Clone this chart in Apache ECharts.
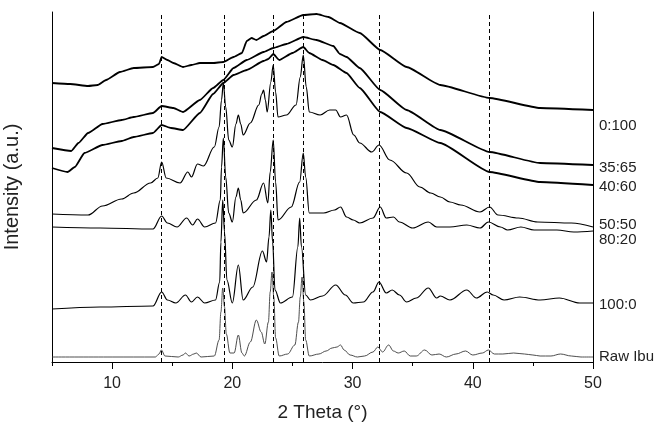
<!DOCTYPE html>
<html>
<head>
<meta charset="utf-8">
<script src="https://cdn.jsdelivr.net/npm/echarts@6/dist/echarts.min.js"></script>
<style>
  html, body { margin: 0; padding: 0; background: #fff; }
  #chart { width: 660px; height: 422px; }
</style>
</head>
<body>
<div id="chart"></div>
<script>
// XRD 图谱 — 各配比的衍射曲线（强度为任意单位，按图面读取）

const majorTicks = [10, 20, 30, 40, 50];
const refPeaks = [14.1, 19.3, 23.4, 25.9, 32.2, 41.4];

const d0_100 = [[5,279],[6.5,278],[8,276],[8.8,277],[9.5,282],[10.65,290],[11.8,294],[13.4,295],[13.9,298],[14.12,305],[14.6,302],[15.1,299],[15.9,295],[16.6,297],[17.3,299],[18.4,299],[19.25,300],[20.1,305],[20.8,309],[21.2,321],[21.6,324],[22.0,322],[22.6,326],[23.4,331],[24.5,340],[25.9,347],[27.0,348],[28.0,345],[28.95,339],[30.6,329],[32.3,312],[34.5,295],[37.3,277],[41.4,264],[45.6,254],[50,252]];

const d35_65 = [[5,214],[6.6,211],[7.2,219],[8.0,229],[9.2,238],[10.8,242],[11.8,245],[13.4,249],[14.12,256],[15.1,254],[15.9,250],[17.3,262],[18.4,274],[19.25,282],[20.1,294],[21.2,302],[22.6,310],[23.4,314],[24.5,318],[25.9,325],[27.0,322],[28.4,316],[28.95,308],[29.5,305],[30.6,294],[32.3,272],[34.5,252],[37.3,232],[41.4,210],[45.6,199],[50,197]];

const d40_60 = [[5,194],[6.3,190],[6.9,195],[7.7,209],[9.2,217],[10.8,221],[11.8,225],[13.4,229],[14.12,237],[14.9,234],[15.9,232],[17.3,249],[18.4,268],[19.25,279],[20.1,287],[21.2,292],[22.6,301],[23.0,303],[23.4,308],[23.9,302],[25.0,309],[25.9,315],[26.4,309],[27.5,302],[28.4,297],[29.5,289],[30.6,274],[32.3,250],[34.5,234],[37.3,219],[41.4,190],[45.6,180],[50,177]];

const d50_50 = [[5,148],[8.0,147],[9.2,156],[10.8,163],[11.8,169],[13.2,179],[13.8,184],[14.12,200],[14.5,184],[15.65,179],[16.3,190],[16.6,185],[17.1,198],[17.6,196],[18.5,215],[18.9,235],[19.1,262],[19.25,279],[19.45,255],[19.7,222],[20.0,215],[20.3,238],[20.5,247],[20.7,238],[20.9,227],[21.5,239],[22.2,257],[22.45,268],[22.6,272],[22.75,262],[22.9,250],[23.2,280],[23.4,297],[23.6,270],[23.8,245],[24.5,247],[25.3,257],[25.65,285],[25.9,307],[26.15,275],[26.4,250],[27.3,247],[28.1,252],[28.6,252],[29.0,245],[29.5,247],[30.1,227],[30.6,219],[31.6,210],[32.2,217],[33.1,202],[34.5,189],[35.6,175],[36.5,169],[37.3,165],[38.1,160],[39.0,157],[40.6,150],[41.4,155],[42.1,147],[43.8,144],[45.4,140],[48.2,139],[50,135]];

const d80_20 = [[5,135],[9,134],[13.4,133],[14.12,146],[14.6,139],[15.4,135],[16.2,144],[16.7,137],[17.1,143],[17.7,135],[18.6,139],[19.0,162],[19.1,195],[19.25,224],[19.45,185],[19.7,149],[20.0,140],[20.3,165],[20.5,174],[20.7,162],[20.9,149],[22.0,162],[22.6,179],[22.95,159],[23.15,190],[23.4,222],[23.6,180],[23.8,142],[24.9,155],[25.6,180],[25.9,209],[26.1,185],[26.4,149],[27.6,149],[28.5,152],[29.0,155],[29.5,145],[30.06,142],[30.6,139],[31.7,144],[32.3,155],[32.8,144],[33.4,145],[33.9,140],[35.0,134],[36.3,140],[37.0,135],[38.1,135],[39.5,137],[40.6,134],[41.3,140],[42.3,135],[42.9,132],[44.0,135],[45.1,132],[47.0,132],[48.4,130],[50,131]];

const d100_0 = [[5,53],[9,55],[13.4,56],[14.12,70],[14.6,62],[15.3,59],[16.1,67],[16.6,60],[17.1,65],[17.7,59],[18.6,62],[18.95,80],[19.05,120],[19.2,162],[19.35,130],[19.55,82],[20.0,59],[20.5,97],[20.9,62],[21.7,75],[22.5,111],[22.85,100],[23.05,125],[23.2,152],[23.35,120],[23.55,72],[24.0,59],[25.0,65],[25.45,115],[25.6,144],[25.75,115],[26.1,67],[26.5,62],[27.5,66],[28.6,77],[29.4,67],[30.06,59],[30.9,60],[31.7,70],[32.2,80],[32.8,69],[33.3,72],[33.9,67],[34.5,60],[35.3,64],[36.3,74],[37.0,64],[37.3,66],[38.1,62],[39.5,72],[40.3,64],[41.2,70],[41.7,67],[42.6,62],[43.9,65],[45.6,62],[47.2,64],[48.9,59],[50,59]];

const dRaw = [[5,5],[10,5],[13.6,5],[13.9,8],[14.1,12],[14.4,6],[15.5,5],[15.9,7],[16.1,9],[16.4,6],[16.8,8],[17.0,9],[17.4,5],[18.5,6],[18.9,22],[19.05,50],[19.2,74],[19.35,55],[19.5,28],[19.8,9],[20.15,9],[20.5,27],[20.8,9],[21.0,6],[21.5,20],[22.0,42],[22.4,30],[22.7,18],[23.0,40],[23.15,70],[23.3,90],[23.45,65],[23.6,24],[23.9,6],[24.6,8],[25.2,17],[25.5,40],[25.65,65],[25.8,85],[25.95,60],[26.1,22],[26.4,6],[27.2,8],[27.8,11],[28.3,14],[28.7,15],[29.0,17],[29.3,12],[29.8,7],[30.4,5],[31.0,6],[31.7,10],[32.1,15],[32.5,10],[33.0,17],[33.4,11],[33.8,9],[34.3,11],[34.8,6],[35.3,6],[36.0,12],[36.6,7],[37.2,8],[37.8,5],[38.6,8],[39.4,11],[40.0,7],[40.8,9],[41.3,12],[41.8,8],[42.5,8],[43.4,9],[44.3,8],[45.0,7],[45.6,6],[46.5,6],[47.3,8],[48.2,6],[49.0,5],[50,5]];

const font = 'Liberation Sans, Arial, sans-serif';

// 曲线：名称、数据、是否为噪声较大的非晶谱、右侧标签的纵向微调
const traces = [
    { name: '0:100', data: d0_100, noisy: true, shift: 16 },
    { name: '35:65', data: d35_65, noisy: true, shift: 3 },
    { name: '40:60', data: d40_60, noisy: true, shift: 2 },
    { name: '50:50', data: d50_50, noisy: false, shift: -2 },
    { name: '80:20', data: d80_20, noisy: false, shift: 9 },
    { name: '100:0', data: d100_0, noisy: false, shift: 2 },
    { name: 'Raw Ibu', data: dRaw, noisy: false, shift: 0, thin: true }
];

const series = traces.map((t, i) => {
    const s = {
        name: t.name,
        type: 'line',
        data: t.data,
        showSymbol: false,
        smooth: t.noisy ? 0.15 : 0.35,
        smoothMonotone: 'x',
        silent: true,
        lineStyle: {
            color: t.thin ? '#3a3a3a' : '#000',
            width: t.noisy ? 1.8 : (t.thin ? 0.9 : 1.2)
        },
        endLabel: {
            show: true,
            formatter: '{a}',
            distance: 6,
            offset: [0, t.shift],
            color: '#222',
            fontSize: 15,
            fontFamily: font
        }
    };
    if (i === 0) {
        s.markLine = {
            silent: true,
            symbol: ['none', 'none'],
            label: { show: false },
            lineStyle: { type: [4, 3], color: '#000', width: 1 },
            data: refPeaks.map(x => ({ xAxis: x }))
        };
    }
    return s;
});

const chart = echarts.init(document.getElementById('chart'));
chart.setOption({
    animation: false,
    backgroundColor: '#fff',
    grid: { left: 52, right: 67, top: 12, bottom: 60, containLabel: false, outerBoundsMode: 'none' },
    xAxis: [
        {
            type: 'value',
            position: 'bottom',
            min: 5,
            max: 50,
            interval: 5,
            name: '2 Theta (°)',
            nameLocation: 'middle',
            nameGap: 41,
            nameTextStyle: { fontSize: 19, color: '#222', fontFamily: font },
            axisLine: { show: true, lineStyle: { color: '#000', width: 1 } },
            axisTick: { show: true, inside: false, length: 4, lineStyle: { color: '#000' } },
            axisLabel: {
                customValues: majorTicks,
                formatter: v => (v % 10 === 0 ? String(v) : ''),
                margin: 14,
                fontSize: 16,
                color: '#222',
                fontFamily: font
            },
            splitLine: { show: false }
        },
        {
            type: 'value',
            position: 'bottom',
            min: 5,
            max: 50,
            interval: 5,
            axisLine: { show: false },
            axisTick: { show: true, customValues: majorTicks, length: 7, lineStyle: { color: '#000' } },
            axisLabel: { show: false },
            splitLine: { show: false }
        }
    ],
    yAxis: [
        {
            type: 'value',
            min: 0,
            max: 350,
            name: 'Intensity (a.u.)',
            nameLocation: 'middle',
            nameGap: 30,
            nameTextStyle: { fontSize: 20, color: '#222', fontFamily: font },
            axisLine: { show: true, lineStyle: { color: '#000', width: 1 } },
            axisTick: { show: false },
            axisLabel: { show: false },
            splitLine: { show: false }
        },
        {
            type: 'value',
            position: 'right',
            min: 0,
            max: 350,
            axisLine: { show: true, lineStyle: { color: '#000', width: 1 } },
            axisTick: { show: false },
            axisLabel: { show: false },
            splitLine: { show: false }
        }
    ],
    series: series
});
</script>
</body>
</html>
